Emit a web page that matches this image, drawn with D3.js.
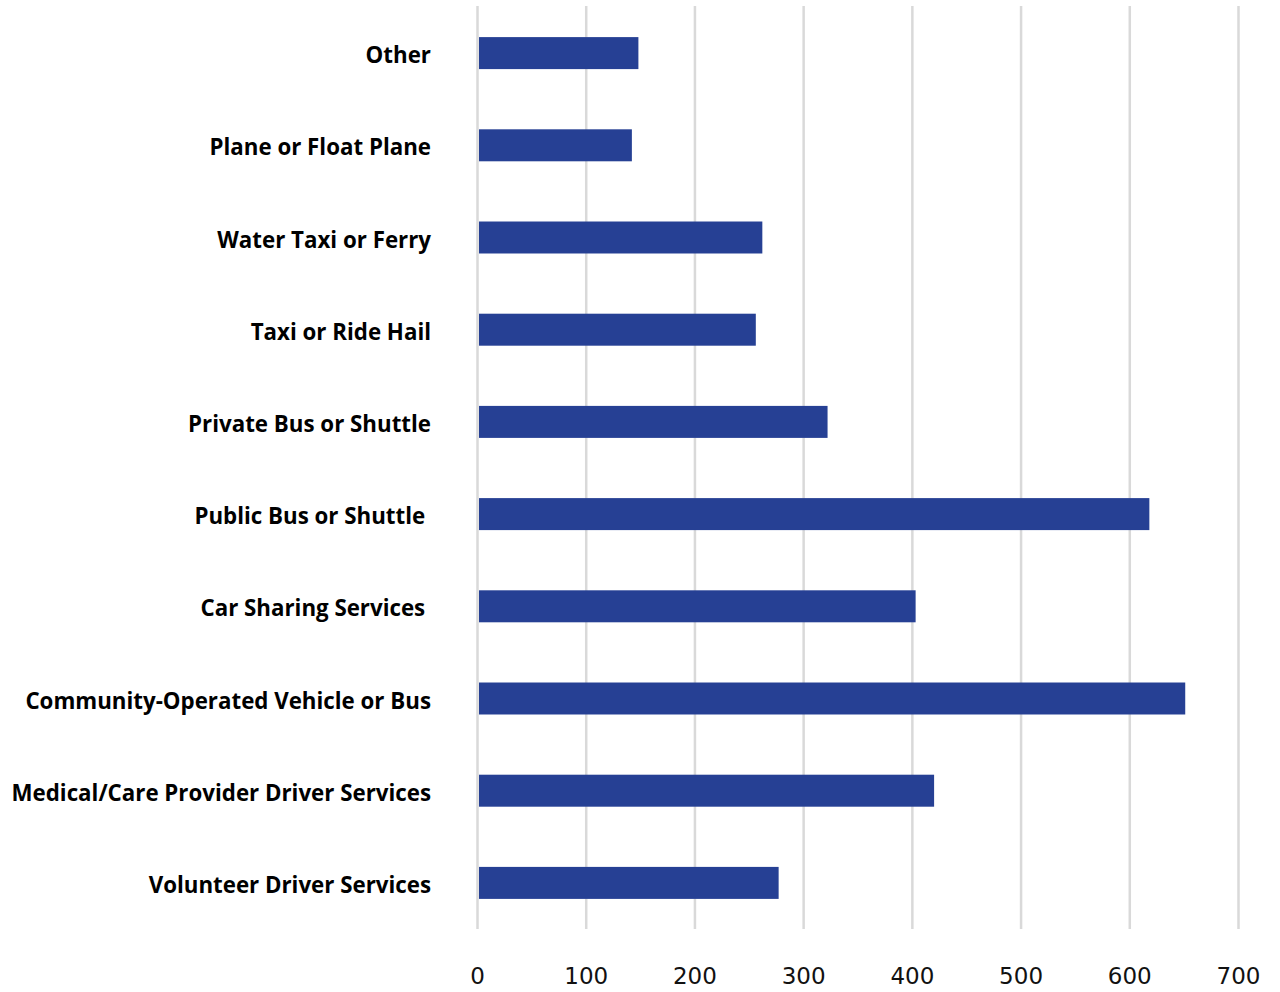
<!DOCTYPE html>
<html>
<head>
<meta charset="utf-8">
<script src="https://cdn.jsdelivr.net/npm/d3@7"></script>
<style>
  html, body { margin: 0; padding: 0; background: #fff; }
  svg { display: block; }
  .cat { font-family: "Open Sans", sans-serif; font-weight: 700; font-size: 22.3px; fill: #000; white-space: pre; }
  .tick-label { font-family: "DejaVu Sans", sans-serif; font-size: 23px; fill: #111; }
</style>
</head>
<body>
<svg id="chart" width="1280" height="992"></svg>
<script>
// Transportation options, listed top to bottom
const categories = [
  "Other",
  "Plane or Float Plane",
  "Water Taxi or Ferry",
  "Taxi or Ride Hail",
  "Private Bus or Shuttle",
  "Public Bus or Shuttle ",
  "Car Sharing Services ",
  "Community-Operated Vehicle or Bus",
  "Medical/Care Provider Driver Services",
  "Volunteer Driver Services"
];
const counts = [148, 142, 262, 256, 322, 618, 403, 651, 420, 277];
const xTicks = [0, 100, 200, 300, 400, 500, 600, 700];

const svg = d3.select("#chart");
const plot = { left: 477.5, right: 1238.5, top: 7, bottom: 929 };

const x = d3.scaleLinear().domain([0, 700]).range([plot.left, plot.right]);
const y = d3.scaleBand().domain(categories).range([plot.top, plot.bottom])
  .paddingInner(0.653).paddingOuter(0.3265);

// vertical gridlines
svg.append("g").selectAll("line").data(xTicks).join("line")
  .attr("x1", d => x(d)).attr("x2", d => x(d))
  .attr("y1", plot.top - 1).attr("y2", plot.bottom)
  .attr("stroke", "#d9d9d9").attr("stroke-width", 2.5);

// bars
svg.append("g").selectAll("rect").data(categories).join("rect")
  .attr("x", x(0) + 1.5)
  .attr("y", d => y(d))
  .attr("width", (d, i) => x(counts[i]) - x(0) - 1.5)
  .attr("height", y.bandwidth())
  .attr("fill", "#264094");

// category labels
svg.append("g").selectAll("text").data(categories).join("text")
  .attr("class", "cat")
  .attr("x", 431)
  .attr("y", d => y(d) + y.bandwidth() / 2)
  .attr("dy", "0.45em")
  .attr("text-anchor", "end")
  .text(d => d);

// x-axis tick labels
svg.append("g").selectAll("text").data(xTicks).join("text")
  .attr("class", "tick-label")
  .attr("x", d => x(d))
  .attr("y", 984)
  .attr("text-anchor", "middle")
  .text(d => d);
</script>
</body>
</html>
